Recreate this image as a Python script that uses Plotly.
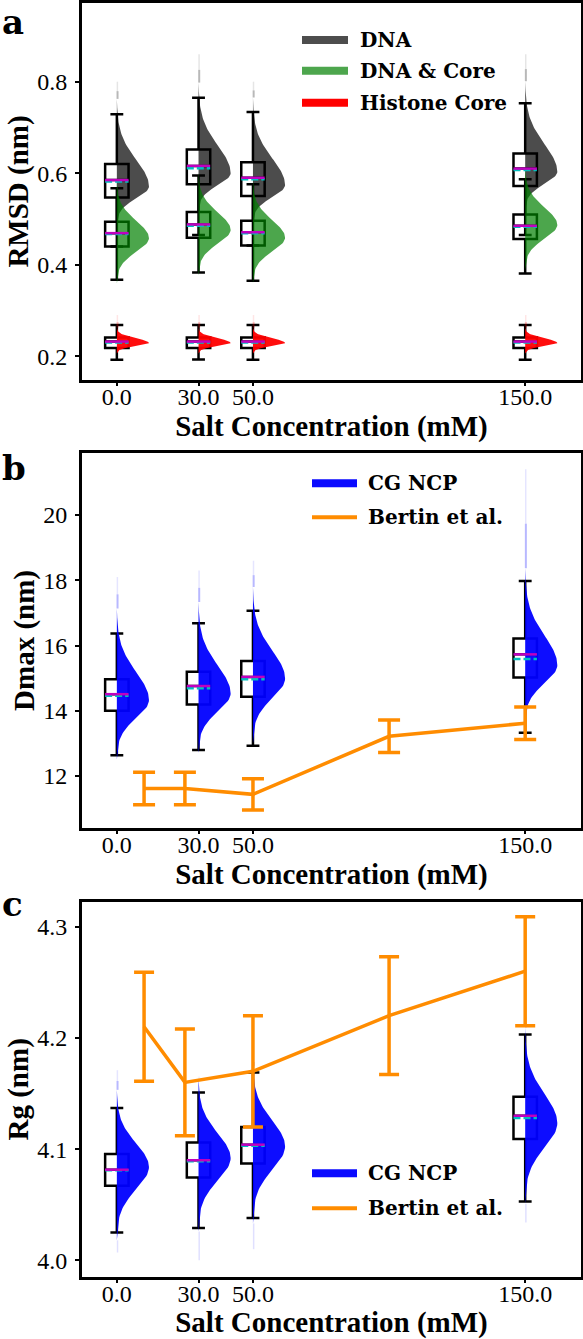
import numpy as np
import plotly.graph_objects as go

# ---------------- data ----------------
SALT = [0, 30, 50, 150]
SALT_LABELS = ["0.0", "30.0", "50.0", "150.0"]

# Panel a: RMSD (nm)
DNA_Q1 = [0.547, 0.576, 0.550, 0.572]
DNA_MED = [0.585, 0.616, 0.590, 0.610]
DNA_MEAN = [0.582, 0.611, 0.587, 0.607]
DNA_Q3 = [0.620, 0.652, 0.624, 0.643]
DNA_LO = [0.440, 0.465, 0.442, 0.465]
DNA_HI = [0.729, 0.765, 0.734, 0.753]
DNA_MODE = [0.571, 0.600, 0.574, 0.603]
DNA_SLO = [0.026, 0.026, 0.026, 0.026]
DNA_SHI = [0.058, 0.060, 0.058, 0.060]
DNA_TAIL = [0.80, 0.86, 0.80, 0.86]

DC_Q1 = [0.440, 0.459, 0.442, 0.456]
DC_MED = [0.469, 0.488, 0.471, 0.485]
DC_MEAN = [0.467, 0.485, 0.469, 0.483]
DC_Q3 = [0.494, 0.515, 0.496, 0.510]
DC_LO = [0.367, 0.383, 0.365, 0.381]
DC_HI = [0.567, 0.595, 0.576, 0.587]
DC_MODE = [0.458, 0.476, 0.459, 0.487]
DC_SLO = [0.030, 0.030, 0.030, 0.030]
DC_SHI = [0.038, 0.038, 0.038, 0.038]

HC_Q1 = [0.218, 0.218, 0.218, 0.218]
HC_MED = [0.232, 0.232, 0.232, 0.232]
HC_MEAN = [0.230, 0.230, 0.230, 0.230]
HC_Q3 = [0.241, 0.241, 0.241, 0.241]
HC_LO = [0.192, 0.193, 0.192, 0.192]
HC_HI = [0.268, 0.268, 0.268, 0.268]
HC_MODE = [0.229, 0.229, 0.229, 0.229]
HC_SLO = [0.007, 0.007, 0.007, 0.007]
HC_SHI = [0.010, 0.010, 0.010, 0.010]
HC_TAIL = [0.29, 0.29, 0.29, 0.29]

# Panel b: Dmax (nm)
DM_Q1 = [14.00, 14.19, 14.43, 15.02]
DM_MED = [14.51, 14.76, 15.04, 15.73]
DM_MEAN = [14.46, 14.69, 14.97, 15.59]
DM_Q3 = [14.97, 15.20, 15.53, 16.22]
DM_LO = [12.64, 12.80, 12.93, 13.33]
DM_HI = [16.37, 16.68, 17.07, 17.98]
DM_MODE = [14.33, 14.53, 14.99, 15.40]
DM_SLO = [0.55, 0.55, 0.60, 0.55]
DM_SHI = [0.85, 0.85, 0.85, 0.90]
DM_TAIL = [18.1, 18.3, 18.6, 21.4]

# Panel c: Rg (nm)
RG_Q1 = [4.067, 4.0745, 4.087, 4.109]
RG_MED = [4.0815, 4.090, 4.104, 4.130]
RG_MEAN = [4.081, 4.089, 4.103, 4.128]
RG_Q3 = [4.0955, 4.106, 4.120, 4.147]
RG_LO = [4.025, 4.029, 4.038, 4.053]
RG_HI = [4.137, 4.151, 4.169, 4.203]
RG_MODE = [4.084, 4.092, 4.1025, 4.1234]
RG_SLO = [0.020, 0.020, 0.021, 0.022]
RG_SHI = [0.021, 0.022, 0.023, 0.026]
RG_TAIL_LO = [4.007, 4.000, 4.010, 4.034]
RG_TAIL = [4.171, 4.165, 4.170, 4.210]

# Bertin et al.
BERTIN_X = [10, 25, 50, 100, 150]
BERTIN_DMAX = [11.62, 11.62, 11.44, 13.22, 13.62]
BERTIN_DMAX_ERR = [0.50, 0.50, 0.48, 0.50, 0.50]
BERTIN_RG = [4.21, 4.16, 4.17, 4.22, 4.26]
BERTIN_RG_ERR = [0.049, 0.048, 0.050, 0.053, 0.049]

# ---------------- styles ----------------
W, H = 583, 1339
ML, MR, MT, MB = 82, 2, 3, 62
SERIF = "Liberation Serif"
DJ = "DejaVu Serif"
VIOLIN_W = 11.8      # half-violin peak width (x units)
BOX_W = 8.6
GRAY = "rgba(0,0,0,0.70)"
GREEN = "rgba(0,128,0,0.70)"
RED = "rgba(255,0,0,0.95)"
BLUE = "rgba(0,0,255,0.95)"
ORANGE = "#ff8c00"
MAGENTA = "#c000c0"
CYAN = "#00bfbf"

fig = go.Figure()


def ax(n):
    return ("x" if n == 1 else f"x{n}"), ("y" if n == 1 else f"y{n}")


def add_violins(n, modes, slo, shi, color, tail_hi=None, tail_lo=None, tail_rgb="0,0,0"):
    xa, ya = ax(n)
    for i, xc in enumerate(SALT):
        m = modes[i]
        ylo = np.linspace(m - 3.3 * slo[i], m, 40)
        yhi = np.linspace(m, m + 3.3 * shi[i], 60)[1:]
        ys = np.concatenate([ylo, yhi])
        s = np.where(ys < m, slo[i], shi[i])
        ws = VIOLIN_W * np.exp(-0.5 * ((ys - m) / s) ** 2)
        px = [xc] + list(xc + ws) + [xc]
        py = [ys[0]] + list(ys) + [ys[-1]]
        fig.add_trace(go.Scatter(x=px, y=py, fill="toself", fillcolor=color,
                                 mode="lines", line=dict(width=0), hoverinfo="skip",
                                 showlegend=False, xaxis=xa, yaxis=ya))
        if tail_hi is not None:
            y0 = ys[-1]
            y1 = tail_hi[i]
            ym = y0 + 0.45 * (y1 - y0)
            fig.add_trace(go.Scatter(x=[xc + 0.25, xc + 0.25], y=[y0, ym], mode="lines",
                                     line=dict(width=2, color=f"rgba({tail_rgb},0.28)"),
                                     hoverinfo="skip", showlegend=False, xaxis=xa, yaxis=ya))
            fig.add_trace(go.Scatter(x=[xc + 0.2, xc + 0.2], y=[ym, y1], mode="lines",
                                     line=dict(width=1.5, color=f"rgba({tail_rgb},0.10)"),
                                     hoverinfo="skip", showlegend=False, xaxis=xa, yaxis=ya))
        if tail_lo is not None:
            y0 = ys[0]
            y1 = tail_lo[i]
            fig.add_trace(go.Scatter(x=[xc + 0.25, xc + 0.25], y=[y0, y1], mode="lines",
                                     line=dict(width=1.5, color=f"rgba({tail_rgb},0.12)"),
                                     hoverinfo="skip", showlegend=False, xaxis=xa, yaxis=ya))


def add_boxes(n, q1, med, mean, q3, lo, hi):
    xa, ya = ax(n)
    fig.add_trace(go.Box(x=SALT, q1=q1, median=med, q3=q3, lowerfence=lo, upperfence=hi,
                         width=BOX_W, whiskerwidth=0.55, boxpoints=False,
                         line=dict(color="black", width=2.5), fillcolor="rgba(0,0,0,0)",
                         hoverinfo="skip", showlegend=False, xaxis=xa, yaxis=ya))


def add_stat_lines(n, med, mean):
    xa, ya = ax(n)
    hw = BOX_W / 2
    for vals, col, dash, wid in [(mean, CYAN, "7px,3px", 2.5), (med, MAGENTA, "solid", 2.5)]:
        xs, ys = [], []
        for xc, v in zip(SALT, vals):
            xs += [xc - hw, xc + hw, None]
            ys += [v, v, None]
        fig.add_trace(go.Scatter(x=xs, y=ys, mode="lines", line=dict(color=col, width=wid, dash=dash),
                                 hoverinfo="skip", showlegend=False, xaxis=xa, yaxis=ya))


# Panel a
add_violins(1, DNA_MODE, DNA_SLO, DNA_SHI, GRAY, tail_hi=DNA_TAIL, tail_rgb="0,0,0")
add_violins(1, DC_MODE, DC_SLO, DC_SHI, GREEN)
add_violins(1, HC_MODE, HC_SLO, HC_SHI, RED, tail_hi=HC_TAIL, tail_rgb="255,0,0")
add_boxes(1, DNA_Q1, DNA_MED, DNA_MEAN, DNA_Q3, DNA_LO, DNA_HI)
add_boxes(1, DC_Q1, DC_MED, DC_MEAN, DC_Q3, DC_LO, DC_HI)
add_boxes(1, HC_Q1, HC_MED, HC_MEAN, HC_Q3, HC_LO, HC_HI)
add_stat_lines(1, DNA_MED, DNA_MEAN)
add_stat_lines(1, DC_MED, DC_MEAN)
add_stat_lines(1, HC_MED, HC_MEAN)

# Panel b
add_violins(2, DM_MODE, DM_SLO, DM_SHI, BLUE, tail_hi=DM_TAIL, tail_rgb="0,0,255")
add_boxes(2, DM_Q1, DM_MED, DM_MEAN, DM_Q3, DM_LO, DM_HI)
add_stat_lines(2, DM_MED, DM_MEAN)
fig.add_trace(go.Scatter(x=BERTIN_X, y=BERTIN_DMAX, mode="lines",
                         line=dict(color=ORANGE, width=3.5),
                         error_y=dict(type="data", array=BERTIN_DMAX_ERR, color=ORANGE,
                                      thickness=3.5, width=11),
                         showlegend=False, xaxis="x2", yaxis="y2"))

# Panel c
add_violins(3, RG_MODE, RG_SLO, RG_SHI, BLUE, tail_hi=RG_TAIL, tail_lo=RG_TAIL_LO, tail_rgb="0,0,255")
add_boxes(3, RG_Q1, RG_MED, RG_MEAN, RG_Q3, RG_LO, RG_HI)
add_stat_lines(3, RG_MED, RG_MEAN)
fig.add_trace(go.Scatter(x=BERTIN_X, y=BERTIN_RG, mode="lines",
                         line=dict(color=ORANGE, width=3.5),
                         error_y=dict(type="data", array=BERTIN_RG_ERR, color=ORANGE,
                                      thickness=3.5, width=10),
                         showlegend=False, xaxis="x3", yaxis="y3"))

# ---------------- layout ----------------
PH = H - MT - MB
PW = W - ML - MR


def py2paper(py):
    return (H - MB - py) / PH


def px2paper(px):
    return (px - ML) / PW


tickfont = dict(family=SERIF, size=24, color="black")
titlefont = dict(family=SERIF, size=29, color="black", weight="bold")


def xcfg(anchor):
    return dict(domain=[0, 1], range=[-12.8, 170.5], tickmode="array", tickvals=SALT,
                ticktext=SALT_LABELS, showline=True, mirror=True, linecolor="black",
                linewidth=3, ticks="outside", ticklen=3, tickwidth=2, tickcolor="black",
                showgrid=False, zeroline=False, tickfont=tickfont, anchor=anchor,
                automargin=False, ticklabelstandoff=-10,
                title=dict(text="Salt Concentration (mM)", font=titlefont, standoff=4))


def ycfg(anchor, dom, rng, tv, tt, title):
    return dict(domain=dom, range=rng, tickmode="array", tickvals=tv, ticktext=tt,
                showline=True, mirror=True, linecolor="black", linewidth=3,
                ticks="outside", ticklen=4, tickwidth=2, tickcolor="black",
                showgrid=False, zeroline=False, tickfont=tickfont, anchor=anchor,
                automargin=False, ticklabelstandoff=3,
                title=dict(text=title, font=titlefont, standoff=1))


dom_a = [py2paper(380), 1.0]
dom_b = [py2paper(828.3), py2paper(452.7)]
dom_c = [0.0, py2paper(901.7)]

fig.update_layout(
    template="none",
    width=W, height=H, margin=dict(l=ML, r=MR, t=MT, b=MB, autoexpand=False),
    plot_bgcolor="white", paper_bgcolor="white", showlegend=False,
    xaxis=xcfg("y"), xaxis2=xcfg("y2"), xaxis3=xcfg("y3"),
    yaxis=ycfg("x", dom_a, [0.148, 0.972], [0.2, 0.4, 0.6, 0.8], ["0.2", "0.4", "0.6", "0.8"], "RMSD (nm)"),
    yaxis2=ycfg("x2", dom_b, [10.4, 21.91], [12, 14, 16, 18, 20], ["12", "14", "16", "18", "20"], "Dmax (nm)"),
    yaxis3=ycfg("x3", dom_c, [3.985, 4.3225], [4.0, 4.1, 4.2, 4.3], ["4.0", "4.1", "4.2", "4.3"], "Rg (nm)"),
)

shapes = []
annots = []
legfont = dict(family=DJ, size=20, color="black", weight="bold")


def legend_item(x0, x1, py, color, width, text, tx):
    shapes.append(dict(type="line", xref="paper", yref="paper",
                       x0=px2paper(x0), x1=px2paper(x1), y0=py2paper(py), y1=py2paper(py),
                       line=dict(color=color, width=width)))
    annots.append(dict(text=text, xref="paper", yref="paper", x=px2paper(tx), y=py2paper(py),
                       xanchor="left", yanchor="middle", showarrow=False, font=legfont))


legend_item(302, 348, 40, "rgb(77,77,77)", 8, "DNA", 358)
legend_item(302, 348, 70.7, "rgb(77,166,77)", 8, "DNA & Core", 358)
legend_item(302, 348, 102.7, "rgb(255,0,0)", 8, "Histone Core", 358)
legend_item(312, 357, 483.3, "rgb(10,10,255)", 8, "CG NCP", 366)
legend_item(312, 357, 517.3, ORANGE, 4, "Bertin et al.", 366)
legend_item(312, 357, 1173.3, "rgb(10,10,255)", 8, "CG NCP", 366)
legend_item(312, 357, 1208.3, ORANGE, 4, "Bertin et al.", 366)

for lab, py in [("a", 0), ("b", 446), ("c", 882)]:
    annots.append(dict(text=lab, xref="paper", yref="paper", x=px2paper(0), y=py2paper(py),
                       xanchor="left", yanchor="top", showarrow=False,
                       font=dict(family=DJ, size=34, color="black", weight="bold")))

fig.update_layout(shapes=shapes, annotations=annots)
fig.write_html("out.html", config={"displayModeBar": False},
               post_script="document.body.style.margin='0px';document.body.style.padding='0px';")
